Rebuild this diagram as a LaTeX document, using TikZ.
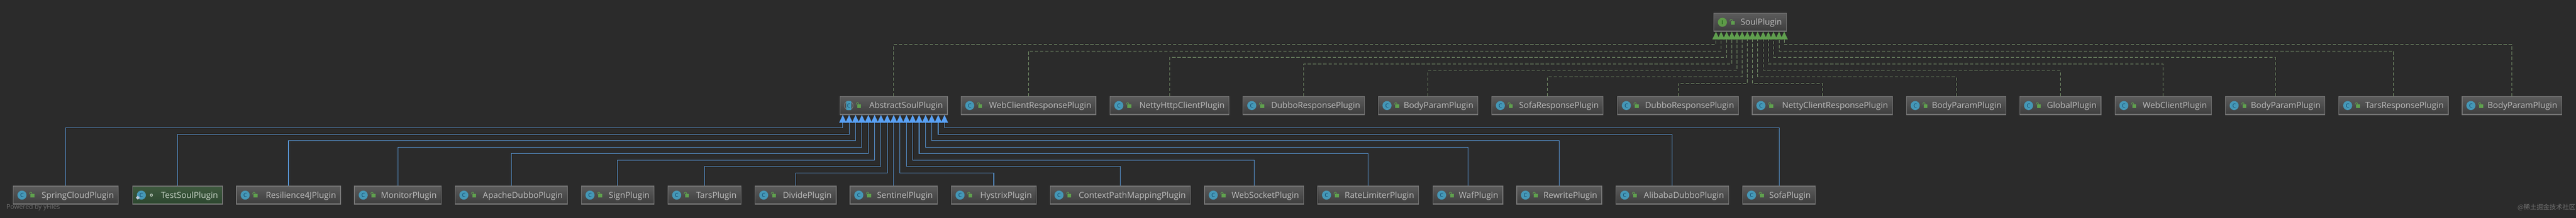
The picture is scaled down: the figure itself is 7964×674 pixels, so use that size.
\documentclass[tikz,border=0pt]{standalone}
\usepackage{fontspec}
\setmainfont{Open Sans}
\newfontfamily\cjkfont{Noto Sans CJK SC}
\usetikzlibrary{arrows.meta,calc}
\definecolor{canvas}{HTML}{2B2B2B}
\definecolor{boxtop}{HTML}{5C5C5C}
\definecolor{boxbot}{HTML}{3D3D3D}
\definecolor{boxedge}{HTML}{767676}
\definecolor{boxband}{HTML}{5A5A5A}
\definecolor{testtop}{HTML}{3F5A3F}
\definecolor{testbot}{HTML}{2C462F}
\definecolor{labeltext}{HTML}{BDBDBD}
\definecolor{testtext}{HTML}{C4D0C4}
\definecolor{tealicon}{HTML}{4597B6}
\definecolor{tealletter}{HTML}{0F4468}
\definecolor{greenicon}{HTML}{5E9A48}
\definecolor{lockgreen}{HTML}{5FA04E}
\definecolor{diamondicon}{HTML}{BCCAD8}
\definecolor{realizeline}{HTML}{7E9B70}
\definecolor{realizetip}{HTML}{5F9E4E}
\definecolor{extendline}{HTML}{5A9BDC}
\definecolor{extendtip}{HTML}{59A1F5}
\definecolor{faint}{HTML}{707070}
\tikzset{
	classbox/.style={
		rectangle, draw=boxedge, line width=2pt, top color=boxtop, bottom color=boxbot,
		minimum height=56pt, inner xsep=14pt, inner ysep=0pt, align=right,
		text=labeltext, text height=24pt, text depth=6pt,
		font=\fontsize{26}{30}\selectfont,
		path picture={
			\fill [boxband] ([yshift=3pt]path picture bounding box.south west) rectangle (path picture bounding box.south east);
		}
	},
	plugin/.style={
		classbox, minimum width=#1-2pt, text width=#1-30pt
	},
	testbox/.style={
		top color=testtop, bottom color=testbot, text=testtext,
		path picture={
			\fill [testtop] ([yshift=3pt]path picture bounding box.south west) rectangle (path picture bounding box.south east);
		}
	},
	realize/.style={
		draw=realizeline, line width=1.5pt, dash pattern=on 10pt off 6pt,
		-{Triangle[length=24pt, width=22pt, color=realizetip]}
	},
	extend/.style={
		draw=extendline, line width=1.7pt,
		-{Triangle[length=24pt, width=22pt, color=extendtip]}
	},
	small text/.style={
		text=faint, inner sep=0pt, anchor=west
	},
	lockicon/.pic={
		\fill [lockgreen] (54,-4) rectangle (66,7);
		\draw [lockgreen, line width=1.5pt] (51,-3) .. controls (51,-11) and (59,-11) .. (59,-4);
	},
	classicon/.pic={
		\fill [tealicon] (28,0) circle [radius=14];
		\node (-letter) at (28,0) [text=tealletter, inner sep=0pt, font=\fontsize{17}{17}\selectfont] {C};
		\pic {lockicon};
	},
	abstracticon/.pic={
		\draw [gray, line width=1.5pt] (28,0) circle [radius=13.5];
		\fill [tealicon, rounded corners=2pt] (20,-14) rectangle (36,14);
		\node (-letter) at (28,0) [text=tealletter, inner sep=0pt, font=\fontsize{17}{17}\selectfont] {C};
		\pic {lockicon};
	},
	testicon/.pic={
		\fill [tealicon] (28,0) circle [radius=14];
		\node (-letter) at (28,0) [text=tealletter, inner sep=0pt, font=\fontsize{17}{17}\selectfont] {C};
		\fill [diamondicon] (17,2) -- (23,8) -- (17,14) -- (11,8) -- cycle;
		\draw [testtext, line width=2pt] (59,0) circle [radius=3.5];
	},
	interfaceicon/.pic={
		\fill [greenicon] (28,0) circle [radius=14];
		\node (-letter) at (28,0) [text=black!75!green, inner sep=0pt, font=\rmfamily\fontsize{17}{17}\selectfont] {I};
		\pic {lockicon};
	}
}
\begin{document}
\begin{tikzpicture}[x=1pt, y=-1pt]
	\useasboundingbox (0,0) rectangle (7964,674);
	\fill [canvas] (-2,-2) rectangle (7966,676);

	\node (soul) at (5410.5,69) [plugin=227] {SoulPlugin};

	% second row
	\node (abstract) at (2763,327) [plugin=334] {AbstractSoulPlugin};
	\node (webresp) at (3179.5,327) [plugin=419] {WebClientResponsePlugin};
	\node (nettyhttp) at (3616,327) [plugin=370] {NettyHttpClientPlugin};
	\node (dubboresp) at (4031,327) [plugin=378] {DubboResponsePlugin};
	\node (bodya) at (4415,327) [plugin=310] {BodyParamPlugin};
	\node (sofaresp) at (4784,327) [plugin=347] {SofaResponsePlugin};
	\node (dubbob) at (5188,327) [plugin=376] {DubboResponsePlugin};
	\node (nettyresp) at (5634,327) [plugin=436] {NettyClientResponsePlugin};
	\node (bodyb) at (6048,327) [plugin=310] {BodyParamPlugin};
	\node (global) at (6370,327) [plugin=253] {GlobalPlugin};
	\node (webclient) at (6688,327) [plugin=300] {WebClientPlugin};
	\node (bodyc) at (7034,327) [plugin=310] {BodyParamPlugin};
	\node (tarsresp) at (7400,327) [plugin=340] {TarsResponsePlugin};
	\node (bodyd) at (7766,327) [plugin=310] {BodyParamPlugin};

	% bottom row
	\node (spring) at (203.5,604.5) [plugin=327] {SpringCloudPlugin};
	\node (test) at (549,604.5) [plugin=280, testbox] {TestSoulPlugin};
	\node (resilience) at (892,604.5) [plugin=324] {Resilience4JPlugin};
	\node (monitor) at (1230,604.5) [plugin=270] {MonitorPlugin};
	\node (apache) at (1580.5,604.5) [plugin=349] {ApacheDubboPlugin};
	\node (sign) at (1909.5,604.5) [plugin=227] {SignPlugin};
	\node (tars) at (2178,604.5) [plugin=228] {TarsPlugin};
	\node (divide) at (2459.5,604.5) [plugin=253] {DividePlugin};
	\node (sentinel) at (2763,604.5) [plugin=272] {SentinelPlugin};
	\node (hystrix) at (3072.5,604.5) [plugin=265] {HystrixPlugin};
	\node (context) at (3463.5,604.5) [plugin=435] {ContextPathMappingPlugin};
	\node (websocket) at (3877,604.5) [plugin=308] {WebSocketPlugin};
	\node (ratelimiter) at (4230,604.5) [plugin=314] {RateLimiterPlugin};
	\node (waf) at (4538,604.5) [plugin=218] {WafPlugin};
	\node (rewrite) at (4820.5,604.5) [plugin=265] {RewritePlugin};
	\node (alibaba) at (5170,604.5) [plugin=350] {AlibabaDubboPlugin};
	\node (sofa) at (5500,604.5) [plugin=226] {SofaPlugin};

	\pic (soulico) at (soul.west) {interfaceicon};
	\pic (abstractico) at (abstract.west) {abstracticon};
	\pic (testico) at (test.west) {testicon};
	\foreach \n in {webresp,nettyhttp,dubboresp,bodya,sofaresp,dubbob,nettyresp,bodyb,global,webclient,bodyc,tarsresp,bodyd,spring,resilience,monitor,apache,sign,tars,divide,sentinel,hystrix,context,websocket,ratelimiter,waf,rewrite,alibaba,sofa}
		\pic (\n ico) at (\n.west) {classicon};

	% elbows under SoulPlugin
	\coordinate (s0) at (5305,138);
	\coordinate (s1) at (5321,158);
	\coordinate (s2) at (5338,178);
	\coordinate (s3) at (5354,198);
	\coordinate (s4) at (5370,218);
	\coordinate (s5) at (5386,238);
	\coordinate (s6) at (5402,258);
	\coordinate (s7) at (5418,258);
	\coordinate (s8) at (5434,238);
	\coordinate (s9) at (5451,218);
	\coordinate (s10) at (5467,198);
	\coordinate (s11) at (5483,178);
	\coordinate (s12) at (5500,158);
	\coordinate (s13) at (5516,138);

	\draw [realize] (abstract.north) |- (s0) -- (s0 |- soul.south);
	\draw [realize] (webresp.north) |- (s1) -- (s1 |- soul.south);
	\draw [realize] (nettyhttp.north) |- (s2) -- (s2 |- soul.south);
	\draw [realize] (dubboresp.north) |- (s3) -- (s3 |- soul.south);
	\draw [realize] (bodya.north) |- (s4) -- (s4 |- soul.south);
	\draw [realize] (sofaresp.north) |- (s5) -- (s5 |- soul.south);
	\draw [realize] (dubbob.north) |- (s6) -- (s6 |- soul.south);
	\draw [realize] (nettyresp.north) |- (s7) -- (s7 |- soul.south);
	\draw [realize] (bodyb.north) |- (s8) -- (s8 |- soul.south);
	\draw [realize] (global.north) |- (s9) -- (s9 |- soul.south);
	\draw [realize] (webclient.north) |- (s10) -- (s10 |- soul.south);
	\draw [realize] (bodyc.north) |- (s11) -- (s11 |- soul.south);
	\draw [realize] (tarsresp.north) |- (s12) -- (s12 |- soul.south);
	\draw [realize] (bodyd.north) |- (s13) -- (s13 |- soul.south);

	% elbows under AbstractSoulPlugin
	\coordinate (a0) at (2605.5,396);
	\coordinate (a1) at (2625,416);
	\coordinate (a2) at (2645,436);
	\coordinate (a3) at (2664.5,456);
	\coordinate (a4) at (2684.5,476);
	\coordinate (a5) at (2704,496);
	\coordinate (a6) at (2723.5,516);
	\coordinate (a7) at (2743,536);
	\coordinate (a9) at (2782.5,536);
	\coordinate (a10) at (2802.5,516);
	\coordinate (a11) at (2821.5,496);
	\coordinate (a12) at (2841.5,476);
	\coordinate (a13) at (2861.5,456);
	\coordinate (a14) at (2880.5,436);
	\coordinate (a15) at (2900.5,416);
	\coordinate (a16) at (2920,396);

	\draw [extend] (spring.north) |- (a0) -- (a0 |- abstract.south);
	\draw [extend] (test.north) |- (a1) -- (a1 |- abstract.south);
	\draw [extend] (resilience.north) |- (a2) -- (a2 |- abstract.south);
	\draw [extend] (monitor.north) |- (a3) -- (a3 |- abstract.south);
	\draw [extend] (apache.north) |- (a4) -- (a4 |- abstract.south);
	\draw [extend] (sign.north) |- (a5) -- (a5 |- abstract.south);
	\draw [extend] (tars.north) |- (a6) -- (a6 |- abstract.south);
	\draw [extend] (divide.north) |- (a7) -- (a7 |- abstract.south);
	\draw [extend] (sentinel.north) -- (sentinel.north |- abstract.south);
	\draw [extend] (hystrix.north) |- (a9) -- (a9 |- abstract.south);
	\draw [extend] (context.north) |- (a10) -- (a10 |- abstract.south);
	\draw [extend] (websocket.north) |- (a11) -- (a11 |- abstract.south);
	\draw [extend] (ratelimiter.north) |- (a12) -- (a12 |- abstract.south);
	\draw [extend] (waf.north) |- (a13) -- (a13 |- abstract.south);
	\draw [extend] (rewrite.north) |- (a14) -- (a14 |- abstract.south);
	\draw [extend] (alibaba.north) |- (a15) -- (a15 |- abstract.south);
	\draw [extend] (sofa.north) |- (a16) -- (a16 |- abstract.south);

	\node (yfiles) at (20,642.5) [small text, font=\fontsize{20}{20}\selectfont] {Powered by yFiles};
	\node (juejin) at (7783,643) [small text, font=\cjkfont\fontsize{20}{20}\selectfont] {@稀土掘金技术社区};
\end{tikzpicture}
\end{document}
